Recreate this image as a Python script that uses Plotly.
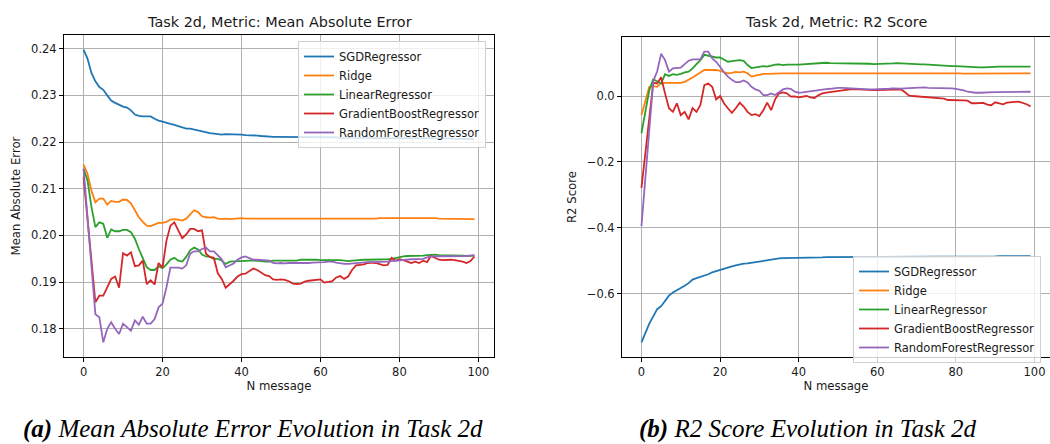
import plotly.graph_objects as go

n_message = list(range(100))

series_names = ["SGDRegressor", "Ridge", "LinearRegressor", "GradientBoostRegressor", "RandomForestRegressor"]
series_colors = ["#1f77b4", "#ff7f0e", "#2ca02c", "#d62728", "#9467bd"]

mae_sgd = [
    0.2398, 0.2379, 0.2348, 0.2330, 0.2318, 0.2312, 0.2300, 0.2289, 0.2284, 0.2280,
    0.2276, 0.2274, 0.2268, 0.2259, 0.2256, 0.2255, 0.2255, 0.2255, 0.2250, 0.2246,
    0.2244, 0.2241, 0.2239, 0.2237, 0.2234, 0.2232, 0.2229, 0.2229, 0.2227, 0.2225,
    0.2223, 0.2220, 0.2219, 0.2218, 0.2217, 0.2216, 0.2217, 0.2217, 0.2216, 0.2216,
    0.2216, 0.2215, 0.2215, 0.2214, 0.2214, 0.2213, 0.2212, 0.2212, 0.2211, 0.2211,
    0.2211, 0.2211, 0.2211, 0.2211, 0.2211, 0.2210, 0.2210, 0.2210, 0.2210, 0.2210,
    0.2210, 0.2210, 0.2210, 0.2210, 0.2210, 0.2209, 0.2209, 0.2209, 0.2209, 0.2209,
    0.2209, 0.2209, 0.2209, 0.2209, 0.2209, 0.2209, 0.2209, 0.2208, 0.2208, 0.2208,
    0.2208, 0.2208, 0.2208, 0.2208, 0.2208, 0.2208, 0.2208, 0.2208, 0.2208, 0.2208,
    0.2208, 0.2208, 0.2208, 0.2208, 0.2207, 0.2207, 0.2207, 0.2207, 0.2207, 0.2207,
]
mae_ridge = [
    0.2152, 0.2132, 0.2096, 0.2071, 0.2079, 0.2079, 0.2066, 0.2074, 0.2072, 0.2072,
    0.2077, 0.2076, 0.2069, 0.2055, 0.2039, 0.2029, 0.2021, 0.2020, 0.2024, 0.2027,
    0.2027, 0.2029, 0.2034, 0.2035, 0.2034, 0.2032, 0.2036, 0.2046, 0.2054, 0.2050,
    0.2041, 0.2039, 0.2038, 0.2039, 0.2036, 0.2035, 0.2036, 0.2035, 0.2036, 0.2037,
    0.2037, 0.2036, 0.2036, 0.2035, 0.2036, 0.2036, 0.2035, 0.2035, 0.2036, 0.2036,
    0.2036, 0.2036, 0.2036, 0.2036, 0.2036, 0.2035, 0.2036, 0.2036, 0.2036, 0.2036,
    0.2036, 0.2036, 0.2036, 0.2035, 0.2035, 0.2035, 0.2035, 0.2035, 0.2036, 0.2036,
    0.2036, 0.2036, 0.2036, 0.2036, 0.2036, 0.2037, 0.2037, 0.2037, 0.2037, 0.2037,
    0.2037, 0.2037, 0.2037, 0.2037, 0.2037, 0.2037, 0.2038, 0.2038, 0.2038, 0.2037,
    0.2036, 0.2036, 0.2036, 0.2036, 0.2036, 0.2036, 0.2035, 0.2035, 0.2035, 0.2035,
]
mae_linear = [
    0.2143, 0.2118, 0.2061, 0.2018, 0.2028, 0.2025, 0.1995, 0.2013, 0.2009, 0.2009,
    0.2012, 0.2012, 0.2007, 0.1993, 0.1971, 0.1950, 0.1932, 0.1926, 0.1926, 0.1934,
    0.1930, 0.1938, 0.1948, 0.1952, 0.1946, 0.1944, 0.1954, 0.1968, 0.1974, 0.1970,
    0.1959, 0.1955, 0.1954, 0.1950, 0.1950, 0.1946, 0.1939, 0.1944, 0.1945, 0.1945,
    0.1945, 0.1946, 0.1946, 0.1946, 0.1946, 0.1945, 0.1944, 0.1944, 0.1946, 0.1946,
    0.1946, 0.1946, 0.1946, 0.1946, 0.1946, 0.1948, 0.1948, 0.1949, 0.1949, 0.1948,
    0.1947, 0.1947, 0.1947, 0.1947, 0.1948, 0.1947, 0.1946, 0.1945, 0.1946, 0.1947,
    0.1948, 0.1948, 0.1948, 0.1948, 0.1948, 0.1948, 0.1949, 0.1949, 0.1950, 0.1952,
    0.1954, 0.1955, 0.1956, 0.1956, 0.1956, 0.1956, 0.1957, 0.1958, 0.1959, 0.1959,
    0.1958, 0.1958, 0.1957, 0.1957, 0.1957, 0.1957, 0.1957, 0.1956, 0.1956, 0.1957,
]
mae_gb = [
    0.2125, 0.2040, 0.1945, 0.1857, 0.1871, 0.1871, 0.1889, 0.1907, 0.1912, 0.1888,
    0.1962, 0.1957, 0.1964, 0.1934, 0.1936, 0.1946, 0.1896, 0.1904, 0.1895, 0.1941,
    0.1931, 0.1989, 0.2021, 0.2028, 0.2011, 0.1994, 0.2002, 0.2014, 0.2014, 0.2009,
    0.2011, 0.1961, 0.1954, 0.1952, 0.1919, 0.1907, 0.1888, 0.1895, 0.1903, 0.1912,
    0.1917, 0.1918, 0.1923, 0.1929, 0.1926, 0.1920, 0.1915, 0.1913, 0.1906, 0.1905,
    0.1906, 0.1905, 0.1902, 0.1897, 0.1896, 0.1897, 0.1901, 0.1903, 0.1904, 0.1906,
    0.1906, 0.1899, 0.1901, 0.1902, 0.1910, 0.1913, 0.1907, 0.1912, 0.1926, 0.1936,
    0.1937, 0.1938, 0.1941, 0.1942, 0.1941, 0.1938, 0.1936, 0.1937, 0.1952, 0.1946,
    0.1949, 0.1947, 0.1944, 0.1941, 0.1944, 0.1941, 0.1946, 0.1943, 0.1956, 0.1952,
    0.1948, 0.1947, 0.1948, 0.1948, 0.1947, 0.1946, 0.1944, 0.1941, 0.1945, 0.1955,
]
mae_rf = [
    0.2143, 0.2039, 0.1932, 0.1831, 0.1825, 0.1771, 0.1800, 0.1814, 0.1800, 0.1789,
    0.1811, 0.1804, 0.1796, 0.1818, 0.1809, 0.1826, 0.1811, 0.1811, 0.1821, 0.1846,
    0.1854, 0.1889, 0.1931, 0.1931, 0.1931, 0.1929, 0.1936, 0.1961, 0.1966, 0.1966,
    0.1971, 0.1974, 0.1966, 0.1966, 0.1957, 0.1949, 0.1932, 0.1936, 0.1940, 0.1948,
    0.1953, 0.1955, 0.1952, 0.1948, 0.1948, 0.1947, 0.1946, 0.1946, 0.1941, 0.1940,
    0.1941, 0.1940, 0.1941, 0.1941, 0.1940, 0.1940, 0.1941, 0.1941, 0.1942, 0.1942,
    0.1943, 0.1943, 0.1944, 0.1944, 0.1942, 0.1940, 0.1939, 0.1939, 0.1940, 0.1941,
    0.1942, 0.1942, 0.1943, 0.1943, 0.1943, 0.1944, 0.1944, 0.1944, 0.1945, 0.1946,
    0.1947, 0.1948, 0.1948, 0.1949, 0.1949, 0.1949, 0.1950, 0.1953, 0.1955, 0.1955,
    0.1955, 0.1955, 0.1955, 0.1955, 0.1955, 0.1955, 0.1955, 0.1956, 0.1957, 0.1958,
]

r2_sgd = [
    -0.748, -0.720, -0.691, -0.669, -0.647, -0.638, -0.623, -0.606, -0.596, -0.590,
    -0.583, -0.576, -0.568, -0.557, -0.553, -0.549, -0.546, -0.541, -0.535, -0.531,
    -0.527, -0.524, -0.521, -0.517, -0.514, -0.511, -0.509, -0.508, -0.506, -0.504,
    -0.501, -0.499, -0.497, -0.495, -0.494, -0.493, -0.492, -0.492, -0.491, -0.491,
    -0.491, -0.490, -0.490, -0.490, -0.490, -0.490, -0.490, -0.489, -0.489, -0.489,
    -0.489, -0.489, -0.489, -0.489, -0.489, -0.489, -0.489, -0.489, -0.489, -0.489,
    -0.489, -0.489, -0.488, -0.488, -0.488, -0.488, -0.488, -0.488, -0.488, -0.488,
    -0.488, -0.488, -0.488, -0.488, -0.488, -0.487, -0.487, -0.487, -0.487, -0.487,
    -0.487, -0.487, -0.487, -0.487, -0.487, -0.487, -0.487, -0.487, -0.487, -0.487,
    -0.487, -0.486, -0.486, -0.486, -0.486, -0.486, -0.486, -0.486, -0.486, -0.486,
]
r2_ridge = [
    -0.058, -0.012, 0.028, 0.030, 0.028, 0.040, 0.040, 0.040, 0.040, 0.040,
    0.040, 0.043, 0.049, 0.056, 0.064, 0.072, 0.079, 0.079, 0.079, 0.079,
    0.076, 0.072, 0.069, 0.070, 0.073, 0.072, 0.074, 0.069, 0.059, 0.062,
    0.065, 0.067, 0.067, 0.068, 0.068, 0.068, 0.069, 0.069, 0.069, 0.069,
    0.069, 0.069, 0.070, 0.070, 0.070, 0.069, 0.069, 0.069, 0.069, 0.069,
    0.069, 0.069, 0.069, 0.069, 0.069, 0.069, 0.070, 0.070, 0.070, 0.070,
    0.070, 0.070, 0.070, 0.070, 0.071, 0.071, 0.071, 0.071, 0.070, 0.070,
    0.070, 0.070, 0.070, 0.070, 0.070, 0.070, 0.069, 0.069, 0.069, 0.069,
    0.069, 0.069, 0.068, 0.068, 0.068, 0.068, 0.067, 0.067, 0.067, 0.067,
    0.068, 0.068, 0.068, 0.068, 0.068, 0.069, 0.069, 0.069, 0.069, 0.069,
]
r2_linear = [
    -0.113, -0.048, 0.018, 0.051, 0.044, 0.038, 0.066, 0.061, 0.066, 0.064,
    0.067, 0.072, 0.074, 0.084, 0.097, 0.109, 0.125, 0.122, 0.118, 0.117,
    0.117, 0.111, 0.104, 0.106, 0.107, 0.109, 0.107, 0.094, 0.085, 0.087,
    0.091, 0.091, 0.089, 0.093, 0.095, 0.096, 0.094, 0.095, 0.096, 0.095,
    0.095, 0.096, 0.097, 0.097, 0.098, 0.099, 0.100, 0.101, 0.100, 0.100,
    0.100, 0.100, 0.100, 0.099, 0.099, 0.099, 0.099, 0.099, 0.098, 0.097,
    0.097, 0.098, 0.098, 0.098, 0.099, 0.100, 0.099, 0.099, 0.098, 0.097,
    0.097, 0.096, 0.096, 0.095, 0.094, 0.094, 0.093, 0.093, 0.092, 0.091,
    0.091, 0.090, 0.089, 0.088, 0.088, 0.087, 0.087, 0.087, 0.088, 0.089,
    0.089, 0.089, 0.089, 0.089, 0.089, 0.089, 0.090, 0.090, 0.089, 0.089,
]
r2_gb = [
    -0.279, -0.168, -0.057, 0.040, 0.038, 0.057, 0.008, -0.037, -0.048, -0.022,
    -0.058, -0.048, -0.071, -0.037, -0.048, -0.027, 0.033, 0.038, 0.028, -0.010,
    0.000, -0.022, -0.037, -0.051, -0.037, -0.020, -0.032, -0.048, -0.058, -0.055,
    -0.061, -0.043, -0.020, -0.043, -0.010, 0.008, 0.011, 0.008, -0.002, -0.001,
    -0.004, -0.002, 0.000, -0.004, -0.006, 0.002, 0.008, 0.010, 0.012, 0.013,
    0.015, 0.018, 0.020, 0.020, 0.021, 0.020, 0.020, 0.019, 0.019, 0.018,
    0.018, 0.018, 0.019, 0.020, 0.020, 0.020, 0.020, 0.012, 0.002, 0.000,
    -0.001, -0.002, -0.003, -0.003, -0.004, -0.004, -0.005, -0.008, -0.012, -0.012,
    -0.011, -0.012, -0.013, -0.014, -0.022, -0.022, -0.022, -0.021, -0.026, -0.028,
    -0.019, -0.022, -0.025, -0.020, -0.020, -0.018, -0.017, -0.020, -0.025, -0.032,
]
r2_rf = [
    -0.395, -0.250, -0.108, 0.045, 0.075, 0.128, 0.109, 0.074, 0.084, 0.086,
    0.086, 0.097, 0.107, 0.111, 0.111, 0.111, 0.135, 0.135, 0.114, 0.104,
    0.089, 0.072, 0.059, 0.049, 0.042, 0.042, 0.047, 0.041, 0.028, 0.020,
    0.016, 0.003, 0.003, 0.008, 0.003, 0.011, 0.020, 0.023, 0.022, 0.013,
    0.010, 0.011, 0.013, 0.013, 0.016, 0.018, 0.020, 0.021, 0.022, 0.024,
    0.025, 0.025, 0.024, 0.023, 0.022, 0.021, 0.020, 0.020, 0.020, 0.020,
    0.020, 0.020, 0.021, 0.022, 0.023, 0.022, 0.022, 0.023, 0.024, 0.025,
    0.026, 0.026, 0.026, 0.025, 0.025, 0.024, 0.024, 0.024, 0.023, 0.023,
    0.022, 0.020, 0.017, 0.013, 0.011, 0.010, 0.010, 0.011, 0.011, 0.011,
    0.012, 0.012, 0.012, 0.013, 0.013, 0.014, 0.014, 0.014, 0.013, 0.013,
]

mae_series = [mae_sgd, mae_ridge, mae_linear, mae_gb, mae_rf]
r2_series = [r2_sgd, r2_ridge, r2_linear, r2_gb, r2_rf]

left_title = "Task 2d, Metric: Mean Absolute Error"
right_title = "Task 2d, Metric: R2 Score"
left_ylabel = "Mean Absolute Error"
right_ylabel = "R2 Score"
xlabel = "N message"
caption_a = ("(a)", "Mean Absolute Error Evolution in Task 2d")
caption_b = ("(b)", "R2 Score Evolution in Task 2d")

W, H = 1050, 444
FONT = "DejaVu Sans"
TXT = "#1a1a1a"


def px_x(p):
    return p / W


def px_y(p):
    return 1 - p / H


def auto_range(all_series, margin=0.05):
    lo = min(min(s) for s in all_series)
    hi = max(max(s) for s in all_series)
    pad = (hi - lo) * margin
    return [lo - pad, hi + pad]


xr = auto_range([n_message])

fig = go.Figure()
for name, color, ys in zip(series_names, series_colors, mae_series):
    fig.add_trace(go.Scatter(x=n_message, y=ys, mode="lines", name=name,
                             line=dict(color=color, width=1.8),
                             xaxis="x", yaxis="y", legend="legend"))
for name, color, ys in zip(series_names, series_colors, r2_series):
    fig.add_trace(go.Scatter(x=n_message, y=ys, mode="lines", name=name,
                             line=dict(color=color, width=1.8),
                             xaxis="x2", yaxis="y2", legend="legend2"))

axis_common = dict(showline=True, linecolor="black", linewidth=1,
                   ticks="outside", ticklen=4, tickcolor="black", tickwidth=1,
                   showgrid=True, gridcolor="#b0b0b0", gridwidth=1, zeroline=False,
                   tickfont=dict(family=FONT, size=11.5, color=TXT))

fig.update_layout(
    width=W, height=H,
    margin=dict(l=0, r=0, t=0, b=0),
    paper_bgcolor="white", plot_bgcolor="white",
    font=dict(family=FONT, color=TXT),
    xaxis=dict(domain=[px_x(64), px_x(494)], range=xr, dtick=20, anchor="y", mirror=True,
               title=dict(text=xlabel, font=dict(family=FONT, size=11.7, color=TXT), standoff=4),
               **axis_common),
    yaxis=dict(domain=[px_y(357), px_y(35)], range=auto_range(mae_series), dtick=0.01,
               tickformat=".2f", anchor="x", mirror=True,
               title=dict(text=left_ylabel, font=dict(family=FONT, size=11.7, color=TXT), standoff=7),
               **axis_common),
    xaxis2=dict(domain=[px_x(622), 1.0], range=xr, dtick=20, anchor="y2", mirror=True,
                title=dict(text=xlabel, font=dict(family=FONT, size=11.7, color=TXT), standoff=4),
                **axis_common),
    yaxis2=dict(domain=[px_y(357), px_y(37)], range=auto_range(r2_series), dtick=0.2,
                tickformat=".1f", anchor="x2", mirror=False,
                title=dict(text=right_ylabel, font=dict(family=FONT, size=11.7, color=TXT), standoff=7),
                **axis_common),
    legend=dict(x=px_x(298), y=px_y(41), xanchor="left", yanchor="top",
                bgcolor="rgba(255,255,255,0.8)", bordercolor="#d0d0d0", borderwidth=1,
                font=dict(family=FONT, size=11.5, color=TXT), itemwidth=30,
                tracegroupgap=0),
    legend2=dict(x=px_x(853), y=px_y(256), xanchor="left", yanchor="top",
                 bgcolor="rgba(255,255,255,0.8)", bordercolor="#d0d0d0", borderwidth=1,
                 font=dict(family=FONT, size=11.5, color=TXT), itemwidth=30,
                 tracegroupgap=0),
    showlegend=True,
)

annotations = [
    dict(text=left_title, x=px_x(279), y=px_y(22), xref="paper", yref="paper",
         xanchor="center", yanchor="middle", showarrow=False,
         font=dict(family=FONT, size=14.4, color=TXT)),
    dict(text=right_title, x=px_x(836), y=px_y(22), xref="paper", yref="paper",
         xanchor="center", yanchor="middle", showarrow=False,
         font=dict(family=FONT, size=14.4, color=TXT)),
    dict(text=f"<b><i>{caption_a[0]}</i></b><i> {caption_a[1]}</i>", x=px_x(253), y=px_y(429),
         xref="paper", yref="paper", xanchor="center", yanchor="middle", showarrow=False,
         font=dict(family="Liberation Serif", size=25, color="black")),
    dict(text=f"<b><i>{caption_b[0]}</i></b><i> {caption_b[1]}</i>", x=px_x(808), y=px_y(429),
         xref="paper", yref="paper", xanchor="center", yanchor="middle", showarrow=False,
         font=dict(family="Liberation Serif", size=25, color="black")),
]
fig.update_layout(annotations=annotations)

fig.write_html("out.html", config={"displayModeBar": False},
               post_script="document.body.style.margin='0';document.body.style.overflow='hidden';")
